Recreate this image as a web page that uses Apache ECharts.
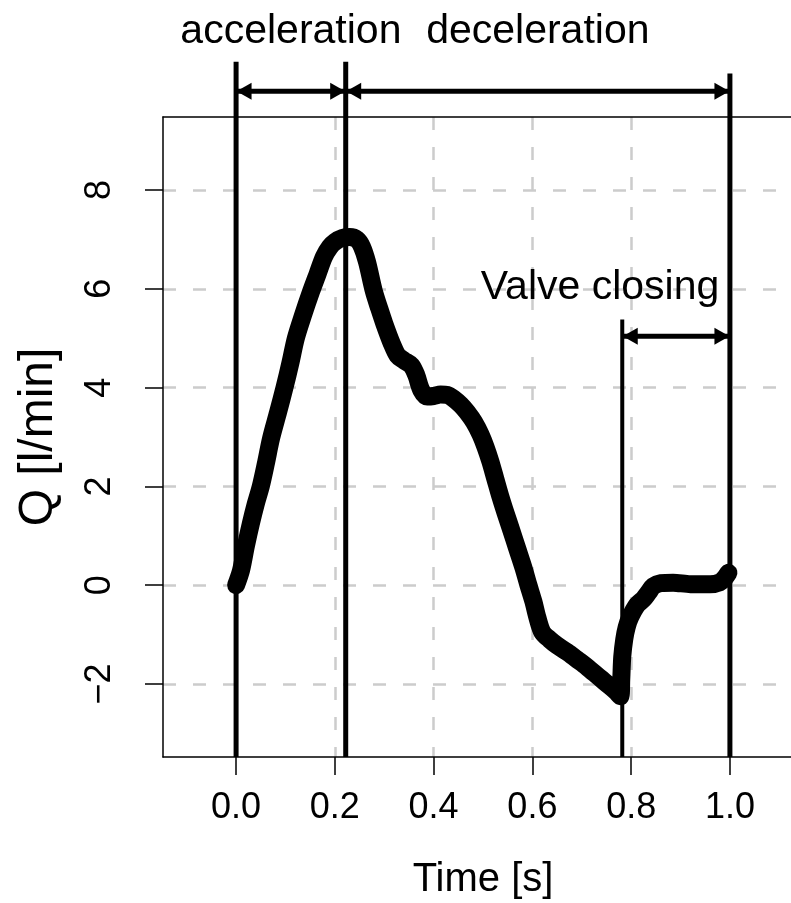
<!DOCTYPE html>
<html>
<head>
<meta charset="utf-8">
<script src="https://cdn.jsdelivr.net/npm/echarts@6/dist/echarts.min.js"></script>
<style>html,body{margin:0;padding:0;background:#fff;overflow:hidden}#c{width:840px;height:903px}</style>
</head>
<body>
<div id="c"></div>
<script>
// ---- data ----
const time = [0.000,0.010,0.020,0.030,0.040,0.050,0.060,0.071,0.085,0.098,0.110,0.121,0.135,0.152,0.165,0.178,0.190,0.200,0.215,0.230,0.245,0.255,0.265,0.279,0.290,0.300,0.315,0.327,0.340,0.355,0.365,0.375,0.387,0.400,0.414,0.428,0.440,0.455,0.468,0.482,0.495,0.505,0.515,0.525,0.535,0.546,0.556,0.569,0.582,0.592,0.602,0.610,0.620,0.635,0.650,0.670,0.690,0.710,0.737,0.755,0.770,0.778,0.780,0.782,0.786,0.791,0.798,0.812,0.825,0.835,0.845,0.860,0.885,0.920,0.960,0.980,0.990,0.997];
const flow = [0.00,0.30,0.80,1.25,1.65,2.00,2.45,2.98,3.50,4.00,4.50,5.00,5.45,5.95,6.30,6.65,6.85,6.95,7.03,7.05,7.00,6.85,6.55,5.95,5.60,5.30,4.90,4.65,4.55,4.45,4.25,3.95,3.82,3.83,3.86,3.85,3.78,3.65,3.50,3.30,3.05,2.80,2.50,2.15,1.80,1.45,1.15,0.75,0.35,0.00,-0.33,-0.65,-0.95,-1.10,-1.22,-1.35,-1.50,-1.65,-1.88,-2.03,-2.16,-2.25,-1.90,-1.45,-1.10,-0.85,-0.65,-0.40,-0.28,-0.15,-0.02,0.04,0.05,0.02,0.02,0.06,0.15,0.25];
const xTicks = [0, 0.2, 0.4, 0.6, 0.8, 1.0];
const xTickLabels = ['0.0', '0.2', '0.4', '0.6', '0.8', '1.0'];
const yTicks = [-2, 0, 2, 4, 6, 8];
const yTickLabels = ['\u22122', '0', '2', '4', '6', '8'];
const phaseBounds = [0, 0.222, 1.0];          // acceleration | deceleration
const phaseNames = ['acceleration', 'deceleration'];
const valveBounds = [0.782, 1.0];
const valveName = 'Valve closing';
const xLabel = 'Time [s]';
const yLabel = 'Q [l/min]';

// ---- chart ----
const XMIN = -0.148, XMAX = 1.148, YMIN = -3.48, YMAX = 9.48;
const FONT = '"Liberation Sans", Arial, Helvetica, sans-serif';
const chart = echarts.init(document.getElementById('c'), null, {renderer: 'canvas'});

const extra = [];
const lineTops = [10.6, 10.6, 10.36];
phaseBounds.forEach((x, i) => {
  extra.push({
    type: 'line', clip: false, silent: true, z: 5, symbol: 'none',
    data: [[x, YMIN], [x, lineTops[i]]],
    lineStyle: {color: '#000', width: 5}
  });
});
extra.push({
  type: 'line', clip: false, silent: true, z: 5, symbol: 'none',
  data: [[valveBounds[0], YMIN], [valveBounds[0], 5.38]],
  lineStyle: {color: '#000', width: 4}
});
// double-headed arrows: shaft + two heads
function arrow(x0, x1, y) {
  extra.push({
    type: 'line', clip: false, silent: true, z: 5, symbol: 'none',
    data: [[x0, y], [x1, y]],
    lineStyle: {color: '#000', width: 5}
  });
  extra.push({
    type: 'scatter', clip: false, silent: true, z: 6,
    symbol: 'triangle', symbolSize: [17, 15],
    itemStyle: {color: '#000', opacity: 1},
    data: [
      {value: [x0, y], symbolRotate: 90, symbolOffset: [8, 0]},
      {value: [x1, y], symbolRotate: -90, symbolOffset: [-8, 0]}
    ]
  });
}
arrow(phaseBounds[0], phaseBounds[1], 10.0);
arrow(phaseBounds[1], phaseBounds[2], 10.0);
arrow(valveBounds[0], valveBounds[1], 5.04);

// text annotations
const textPts = [
  {value: [(phaseBounds[0] + phaseBounds[1]) / 2, 11.2], name: phaseNames[0]},
  {value: [(phaseBounds[1] + phaseBounds[2]) / 2, 11.2], name: phaseNames[1]},
  {value: [0.737, 6.03], name: valveName}
];
extra.push({
  type: 'scatter', clip: false, silent: true, z: 6, symbolSize: 0,
  itemStyle: {opacity: 1},
  data: textPts,
  label: {show: true, position: 'inside', formatter: p => p.name, opacity: 1,
          color: '#000', fontSize: 41, fontFamily: FONT}
});

const option = {
  animation: false,
  backgroundColor: '#fff',
  grid: {left: 163, top: 117, width: 640, bottom: 146, show: false,
         outerBoundsMode: 'none', containLabel: false},
  xAxis: [{
    type: 'value', min: XMIN, max: XMAX, position: 'bottom',
    name: xLabel, nameLocation: 'middle', nameGap: 103,
    nameTextStyle: {fontSize: 40, color: '#000', fontFamily: FONT},
    axisLine: {show: true, onZero: false, lineStyle: {color: '#000', width: 1.5}},
    axisTick: {show: true, length: 18, customValues: xTicks, lineStyle: {color: '#000', width: 1.5}},
    axisLabel: {show: true, margin: 33, customValues: xTicks, fontSize: 36, color: '#000', fontFamily: FONT,
      formatter: v => { const i = xTicks.findIndex(t => Math.abs(t - v) < 1e-6); return i >= 0 ? xTickLabels[i] : ''; }},
    splitLine: {show: true, lineStyle: {color: '#cccccc', width: 2.5, type: [13, 17]}}
  }, {
    type: 'value', min: XMIN, max: XMAX, position: 'top',
    axisLine: {show: true, onZero: false, lineStyle: {color: '#000', width: 1.5}},
    axisTick: {show: false}, axisLabel: {show: false}, splitLine: {show: false}
  }],
  yAxis: {
    type: 'value', min: YMIN, max: YMAX,
    name: yLabel, nameLocation: 'middle', nameGap: 100, nameRotate: 90,
    nameTextStyle: {fontSize: 48, color: '#000', fontFamily: FONT},
    axisLine: {show: true, onZero: false, lineStyle: {color: '#000', width: 1.5}},
    axisTick: {show: true, length: 18, customValues: yTicks, lineStyle: {color: '#000', width: 1.5}},
    axisLabel: {show: true, margin: 45, rotate: 90, customValues: yTicks, fontSize: 36, color: '#000', fontFamily: FONT,
      formatter: v => { const i = yTicks.findIndex(t => Math.abs(t - v) < 1e-6); return i >= 0 ? yTickLabels[i] : ''; }},
    splitLine: {show: true, lineStyle: {color: '#cccccc', width: 2.5, type: [13, 17]}}
  },
  series: [{
    type: 'line', z: 2, silent: true,
    data: time.map((t, i) => [t, flow[i]]),
    smooth: 0.3, symbol: 'none',
    lineStyle: {color: '#000', width: 18, cap: 'round', join: 'round'}
  }].concat(extra)
};
chart.setOption(option);
</script>
</body>
</html>
